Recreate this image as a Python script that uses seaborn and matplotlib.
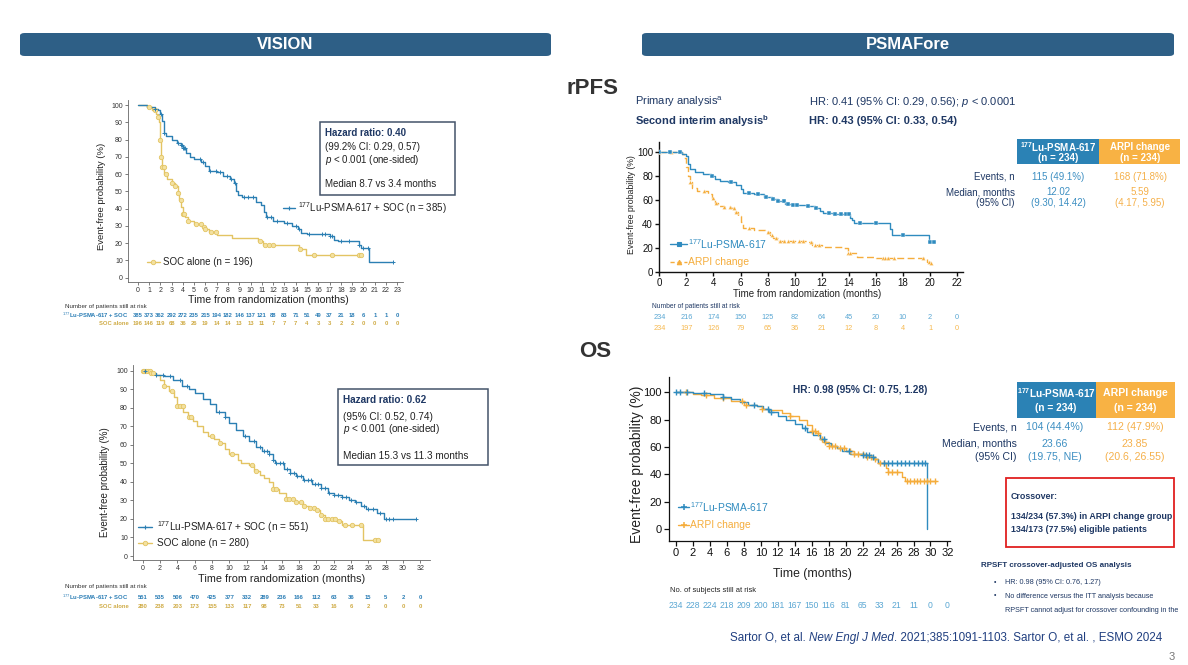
import numpy as np
import pandas as pd
import matplotlib
matplotlib.use("Agg")
import matplotlib.pyplot as plt
import seaborn as sns
from matplotlib.lines import Line2D
from matplotlib.patches import Rectangle, FancyBboxPatch
import matplotlib.transforms as mtrans

# ======================= DATA =======================
# ---- VISION rPFS ----
vis_pfs_months = list(range(0, 24))
vis_pfs_risk_lu = [385, 373, 362, 292, 272, 235, 215, 194, 182, 146, 137, 121, 88, 83, 71, 51, 49, 37, 21, 18, 6, 1, 1, 0]
vis_pfs_risk_soc = [196, 146, 119, 68, 36, 26, 19, 14, 14, 13, 13, 11, 7, 7, 7, 4, 3, 3, 2, 2, 0, 0, 0, 0]
vis_pfs_lu_t = [0, 0.8, 1.5, 1.8, 2.0, 2.15, 2.3, 2.5, 3.0, 3.5, 3.8, 4.0, 4.3, 4.6, 5.0, 5.6, 6.0, 6.3, 7.0, 7.6,
                8.2, 8.5, 8.7, 8.9, 9.2, 10.0, 10.5, 10.9, 11.2, 11.4, 12.0, 13.0, 13.7, 14.2, 14.5, 15.0, 17.0, 17.4,
                17.7, 19.6, 19.8, 20.5, 22.6]
vis_pfs_lu_s = [100, 99, 98, 97, 95, 91, 84, 82, 80, 78, 77, 75, 72, 70, 69, 67, 65, 62, 61, 59,
                57, 55, 50, 48, 47, 46.5, 44, 42, 38, 35, 33, 32, 30, 28, 26, 25.5, 24, 22,
                21, 19, 17.5, 9, 9]
vis_pfs_lu_cens = [1.5, 2.1, 2.3, 3.6, 3.8, 3.9, 4.0, 4.1, 4.2, 5.5, 5.8, 6.4, 6.9, 7.3, 7.9, 8.3, 8.6, 9.4, 9.8,
                   10.2, 11.5, 11.8, 12.3, 13.2, 14.0, 14.3, 15.2, 16.3, 16.6, 17.0, 17.2, 18.0, 18.7, 19.6, 20.0,
                   20.4, 22.6]
vis_pfs_soc_t = [0, 0.8, 1.3, 1.6, 1.8, 1.9, 1.95, 2.0, 2.05, 2.1, 2.2, 2.35, 2.6, 3.0, 3.3, 3.55, 3.7, 3.85, 4.0,
                 4.2, 4.5, 5.0, 5.7, 6.0, 6.3, 7.0, 8.4, 10.7, 11.1, 14.3, 14.9, 19.8]
vis_pfs_soc_s = [100, 99, 97, 95, 93, 90, 86, 80, 74, 70, 64, 60, 57, 55, 53, 49, 45, 41, 37,
                 35, 33, 31, 29.5, 28, 26.5, 25, 23, 21, 19, 16.5, 13, 13]
vis_pfs_soc_cens = [1.0, 1.5, 1.8, 2.0, 2.1, 2.2, 2.3, 2.5, 3.0, 3.3, 3.6, 3.8, 4.0, 4.1, 4.5, 5.2, 5.6, 5.9, 6.0,
                    6.5, 6.9, 10.8, 11.3, 11.6, 12.0, 14.4, 15.6, 17.2, 19.6, 19.8]

# ---- VISION OS ----
vis_os_months = list(range(0, 33, 2))
vis_os_risk_lu = [551, 535, 506, 470, 425, 377, 332, 289, 236, 166, 112, 63, 36, 15, 5, 2, 0]
vis_os_risk_soc = [280, 238, 203, 173, 155, 133, 117, 98, 73, 51, 33, 16, 6, 2, 0, 0, 0]
vis_os_lu_t = [0, 1.0, 1.5, 2.5, 3.5, 4.5, 5.3, 6.0, 7.0, 7.7, 8.5, 9.5, 10.0, 10.7, 11.5, 12.3, 13.0, 13.8, 14.5,
               15.0, 15.3, 16.3, 17.0, 17.7, 18.5, 19.5, 20.5, 21.4, 22.0, 23.0, 23.8, 24.5, 25.2, 25.7, 27.0,
               27.8, 31.5]
vis_os_lu_s = [100, 99, 98, 97, 95, 92, 90, 88, 85, 82, 78, 75, 72, 68, 65, 62, 59, 57, 55,
               52, 50, 47, 45, 43, 41, 39, 37, 34, 33, 32, 30, 29, 27, 25.5, 23,
               20, 20]
vis_os_lu_cens = [0.3, 1.5, 2.3, 3.2, 4.3, 5.1, 8.8, 9.5, 11.8, 12.8, 13.5, 14.0, 14.3, 14.6, 15.0, 15.4, 15.8,
                  16.2, 16.6, 17.0, 17.4, 17.8, 18.2, 18.6, 19.0, 19.4, 19.8, 20.2, 20.6, 21.0, 21.5, 22.0, 22.5,
                  23.0, 23.4, 24.0, 24.6, 25.5, 26.0, 26.5, 27.3, 28.0, 28.4, 28.8, 31.5]
vis_os_soc_t = [0, 1.0, 1.4, 2.0, 2.5, 3.0, 3.6, 4.0, 4.7, 5.2, 5.8, 6.3, 7.0, 7.5, 8.2, 8.8, 9.5, 10.0, 11.0,
                11.3, 12.3, 12.8, 13.5, 14.0, 14.5, 15.0, 15.7, 16.5, 17.5, 18.5, 19.2, 20.0, 20.4, 21.0, 22.3,
                23.0, 25.4, 27.1]
vis_os_soc_s = [100, 99, 98, 95, 92, 89, 86, 81, 78, 75, 73, 70, 67, 65, 63, 61, 58, 55, 52,
                50, 49, 46, 44, 42, 40, 36, 34, 31, 29, 27, 26, 25, 22, 20, 19,
                17, 8.5, 8.5]
vis_os_soc_cens = [0.0, 0.2, 0.4, 0.6, 0.8, 1.0, 1.2, 2.5, 3.4, 4.0, 4.3, 4.6, 5.3, 5.6, 8.0, 8.9, 10.3, 12.6, 13.0,
                   15.0, 15.4, 16.5, 16.9, 17.3, 17.7, 18.2, 18.6, 19.3, 19.7, 20.1, 20.5, 21.0, 21.4, 21.8, 22.2,
                   22.6, 23.3, 24.1, 25.1, 26.8, 27.1]

# ---- PSMAfore rPFS ----
pf_pfs_months = list(range(0, 23, 2))
pf_pfs_risk_lu = [234, 216, 174, 150, 125, 82, 64, 45, 20, 10, 2, 0]
pf_pfs_risk_arpi = [234, 197, 126, 79, 65, 36, 21, 12, 8, 4, 1, 0]
pf_pfs_lu_t = [0, 1.65, 2.0, 2.1, 2.3, 2.6, 3.2, 3.8, 4.1, 4.5, 5.1, 5.7, 6.0, 6.2, 7.0, 7.7, 8.3, 8.8, 9.3, 9.7,
               11.0, 11.5, 11.9, 12.1, 12.8, 14.1, 14.2, 14.4, 17.0, 17.2, 19.9, 20.3]
pf_pfs_lu_s = [100, 99, 97, 90, 86, 84, 82, 80.5, 78, 76, 75, 73, 69, 66, 65, 63, 61, 59, 57, 56,
               55, 53, 51, 49, 48, 45, 43, 40.5, 36, 31, 25, 25]
pf_pfs_lu_cens = [0.0, 0.8, 1.5, 3.9, 5.3, 6.6, 7.3, 7.9, 8.4, 8.8, 9.2, 9.5, 9.9, 10.2, 11.0, 11.6, 12.5, 13.0,
                  13.4, 13.8, 14.0, 14.8, 16.0, 18.0, 20.0, 20.3]
pf_pfs_arpi_t = [0, 1.7, 1.8, 2.0, 2.15, 2.3, 2.4, 2.8, 3.3, 3.6, 3.9, 4.1, 4.3, 4.8, 5.3, 5.6, 5.8, 6.0, 6.2, 7.0,
                 7.8, 8.2, 8.4, 8.8, 9.5, 10.9, 11.3, 12.0, 13.6, 13.9, 14.6, 16.0, 19.6, 19.8, 20.1]
pf_pfs_arpi_s = [100, 99, 95, 88, 80, 75, 70, 68, 67.5, 65, 62, 58, 55, 54, 53, 50, 47, 42, 37, 35,
                 33, 31, 28, 26, 25.5, 25, 22, 20.5, 20, 16, 12, 11.5, 11.5, 8, 7]
pf_pfs_arpi_cens = [0.0, 0.9, 2.3, 3.3, 4.0, 4.2, 4.8, 5.2, 5.5, 5.7, 6.6, 8.0, 8.3, 8.6, 8.9, 9.2, 9.5, 9.9, 10.3,
                    10.6, 11.2, 11.5, 11.8, 13.9, 14.1, 16.5, 16.7, 16.9, 17.3, 19.5, 19.9, 20.1]

# ---- PSMAfore OS ----
pf_os_months = list(range(0, 33, 2))
pf_os_risk = [234, 228, 224, 218, 209, 200, 181, 167, 150, 116, 81, 65, 33, 21, 11, 0, 0]
pf_os_lu_t = [0, 2.0, 4.0, 5.5, 6.5, 7.5, 8.5, 9.5, 10.3, 11.0, 12.0, 13.0, 14.0, 14.8, 15.5, 16.2, 17.0, 17.6,
              18.3, 19.0, 19.6, 20.5, 22.0, 23.0, 23.4, 23.8, 29.6]
pf_os_lu_s = [100, 99.5, 99, 97, 95, 93, 91, 90, 88, 86, 83, 80, 77, 74, 71, 69, 66, 63,
              61, 59, 57, 55, 54.5, 53, 51, 48, 0]
pf_os_lu_cens = [0.0, 0.5, 1.3, 3.3, 5.5, 9.2, 10.8, 11.2, 15.2, 17.5, 20.4, 22.0, 22.4, 22.8, 23.2, 24.5, 25.0,
                 25.5, 26.0, 26.5, 27.0, 27.5, 28.0, 28.5, 29.0, 29.4]
pf_os_arpi_t = [0, 2.0, 3.0, 4.5, 6.5, 8.0, 9.5, 10.2, 11.0, 12.5, 13.5, 14.5, 15.5, 16.0, 16.5, 17.0, 17.5, 18.0,
                19.0, 20.0, 21.0, 22.5, 23.5, 23.85, 24.7, 25.0, 26.6, 27.0, 30.6]
pf_os_arpi_s = [100, 98.5, 98, 96, 94, 91, 90, 88, 87, 85, 83, 80, 76, 72, 70, 66, 64, 61,
                59, 57, 55, 53, 51, 48, 45, 42, 38, 35, 35]
pf_os_arpi_cens = [1.2, 3.5, 5.5, 7.8, 8.3, 10.2, 13.5, 16.0, 16.4, 16.8, 17.2, 17.6, 18.0, 18.4, 18.8, 19.3, 19.8,
                   20.5, 21.0, 21.5, 22.0, 22.5, 23.0, 23.5, 24.0, 24.5, 25.0, 25.5, 26.0, 27.2, 27.6, 28.0, 28.4,
                   28.8, 29.2, 29.6, 30.0, 30.5]

# ======================= STYLE =======================
W, H = 1188, 665
sns.set_theme(style="white")
plt.rcParams['font.family'] = ['Liberation Sans', 'DejaVu Sans']
plt.rcParams['mathtext.fontset'] = 'custom'
plt.rcParams['mathtext.rm'] = 'Liberation Sans'
plt.rcParams['mathtext.it'] = 'Liberation Sans:italic'
plt.rcParams['mathtext.bf'] = 'Liberation Sans:bold'

VIS_BLUE = '#2b7fb3'
VIS_YEL = '#e3c463'
VIS_YEL_FACE = '#f3e1a0'
VIS_RISK_BLUE = '#2a7db5'
VIS_RISK_YEL = '#cfab45'
PF_BLUE = '#2f8bbf'
PF_OR = '#f5ad3c'
PF_RISK_BLUE = '#5aa7d3'
PF_RISK_OR = '#f6b950'
NAVY = '#1f3864'
BAR = '#2e5f86'
TBL_BLUE = '#2b82b5'
TBL_OR = '#f8b244'
VAL_BLUE = '#3d8fc2'
VAL_OR = '#f5b04a'

fig = plt.figure(figsize=(W / 100, H / 100), dpi=100)
fig.patch.set_facecolor('white')


def fx(px):
    return px / W


def fy(py):
    return 1 - py / H


def px_axes(l, t, r, b):
    return fig.add_axes([l / W, 1 - b / H, (r - l) / W, (b - t) / H])


def step_at(times, surv, t):
    idx = np.searchsorted(np.asarray(times), np.asarray(t), side='right') - 1
    return np.asarray(surv, dtype=float)[np.clip(idx, 0, None)]


def km(ax, t, s, cens, color, marker, msize, mface=None, medge=None, mlw=0.8, lw=1.0, dashes=None):
    df = pd.DataFrame({'t': t, 's': s})
    sns.lineplot(data=df, x='t', y='s', ax=ax, color=color, lw=lw, drawstyle='steps-post',
                 estimator=None, sort=False, legend=False)
    if dashes is not None:
        ax.lines[-1].set_dashes(dashes)
    cy = step_at(t, s, cens)
    cdf = pd.DataFrame({'t': cens, 's': cy})
    kws = dict(data=cdf, x='t', y='s', ax=ax, marker=marker, s=msize, linewidth=mlw, zorder=3, legend=False)
    if mface is not None:
        sns.scatterplot(color=mface, edgecolor=medge, **kws)
    else:
        sns.scatterplot(color=color, **kws)


def style(ax, xlim, ylim, xticks, yticks, spine_color, lw, labelsize, tick_len, tickcolor='#333'):
    sns.despine(ax=ax)
    for sp in ['left', 'bottom']:
        ax.spines[sp].set_color(spine_color)
        ax.spines[sp].set_linewidth(lw)
    ax.set_xlim(*xlim)
    ax.set_ylim(*ylim)
    ax.set_xticks(xticks)
    ax.set_yticks(yticks)
    ax.tick_params(axis='both', which='major', direction='out', length=tick_len, width=lw,
                   color=spine_color, labelsize=labelsize, pad=1.5, left=True, bottom=True,
                   labelcolor=tickcolor)
    ax.set_xlabel('')
    ax.set_ylabel('')
    ax.set_facecolor('none')


def leg_entry(x0, x1, y, color, marker, msize, mface=None, medge=None, dashes=None, lw=1.0, mew=0.8):
    ln = Line2D([fx(x0), fx(x1)], [fy(y), fy(y)], transform=fig.transFigure, color=color, lw=lw)
    if dashes:
        ln.set_dashes(dashes)
    fig.add_artist(ln)
    mk = Line2D([fx((x0 + x1) / 2)], [fy(y)], transform=fig.transFigure, marker=marker, ms=msize,
                mfc=mface or color, mec=medge or color, mew=mew, ls='none')
    fig.add_artist(mk)


def risk_row(ax, months, values, py, color, size, weight='normal'):
    tr = mtrans.blended_transform_factory(ax.transData, fig.transFigure)
    for m, v in zip(months, values):
        ax.text(m, fy(py), str(v), transform=tr, ha='center', va='center', fontsize=size, color=color,
                fontweight=weight)


# ======================= HEADER BARS =======================
for x0, x1, label in [(20, 551, 'VISION'), (642, 1174, 'PSMAFore')]:
    fig.add_artist(FancyBboxPatch((fx(x0), fy(56)), fx(x1) - fx(x0), (56 - 33) / H,
                                  boxstyle='round,pad=0,rounding_size=0.004', transform=fig.transFigure,
                                  fc=BAR, ec='none'))
    fig.text(fx((x0 + x1) / 2), fy(44.5), label, ha='center', va='center', color='white',
             fontsize=12, fontweight='bold')

# ======================= VISION rPFS =======================
ax1 = px_axes(127.7, 100, 403, 281.7)
km(ax1, vis_pfs_soc_t, vis_pfs_soc_s, vis_pfs_soc_cens, VIS_YEL, 'o', 10, mface=VIS_YEL_FACE, medge=VIS_YEL, mlw=0.6)
km(ax1, vis_pfs_lu_t, vis_pfs_lu_s, vis_pfs_lu_cens, VIS_BLUE, '+', 10, mlw=0.7)
style(ax1, (-0.88, 23.5), (-2.3, 103), vis_pfs_months, range(0, 101, 10), '#666', 0.6, 5, 2)
fig.text(fx(101.7), fy(196), 'Event-free probability (%)', rotation=90, ha='center', va='center', fontsize=6.8, color='#222')
fig.text(fx(268), fy(300), 'Time from randomization (months)', ha='center', va='center', fontsize=7.6, color='#222')
fig.text(fx(65), fy(306.5), 'Number of patients still at risk', ha='left', va='center', fontsize=4.5, color='#333')
fig.text(fx(128.5), fy(315.3), r'$^{177}$Lu-PSMA-617 + SOC', ha='right', va='center', fontsize=4.2, color=VIS_RISK_BLUE, fontweight='bold')
fig.text(fx(128.5), fy(324), 'SOC alone', ha='right', va='center', fontsize=4.2, color=VIS_RISK_YEL, fontweight='bold')
risk_row(ax1, vis_pfs_months, vis_pfs_risk_lu, 315.3, VIS_RISK_BLUE, 4.2, 'bold')
risk_row(ax1, vis_pfs_months, vis_pfs_risk_soc, 324, VIS_RISK_YEL, 4.2, 'bold')
fig.add_artist(Rectangle((fx(320), fy(195)), fx(455) - fx(320), (195 - 121.7) / H, transform=fig.transFigure,
                         fc='white', ec='#44546a', lw=1.1))
fig.text(fx(325), fy(133.3), 'Hazard ratio: 0.40', fontsize=7, fontweight='bold', color=NAVY, va='center')
fig.text(fx(325), fy(146.7), '(99.2% CI: 0.29, 0.57)', fontsize=7, color='#222', va='center')
fig.text(fx(325), fy(160), r'$p$ < 0.001 (one-sided)', fontsize=7, color='#222', va='center')
fig.text(fx(325), fy(184.3), 'Median 8.7 vs 3.4 months', fontsize=7, color='#222', va='center')
leg_entry(283.3, 295, 208.3, VIS_BLUE, '+', 3.5)
fig.text(fx(298.3), fy(208.3), r'$^{177}$Lu-PSMA-617 + SOC (n = 385)', fontsize=7, color='#222', va='center')
leg_entry(146.7, 160, 261.7, VIS_YEL, 'o', 3.2, mface=VIS_YEL_FACE, medge=VIS_YEL, mew=0.6)
fig.text(fx(163.3), fy(261.7), 'SOC alone (n = 196)', fontsize=7, color='#222', va='center')

# ======================= VISION OS =======================
ax2 = px_axes(132.7, 365, 430, 560)
km(ax2, vis_os_soc_t, vis_os_soc_s, vis_os_soc_cens, VIS_YEL, 'o', 10, mface=VIS_YEL_FACE, medge=VIS_YEL, mlw=0.6)
km(ax2, vis_os_lu_t, vis_os_lu_s, vis_os_lu_cens, VIS_BLUE, '+', 10, mlw=0.7)
style(ax2, (-1.15, 33.1), (-2.16, 103.2), vis_os_months, range(0, 101, 10), '#666', 0.6, 5, 2)
fig.text(fx(105), fy(481.7), 'Event-free probability (%)', rotation=90, ha='center', va='center', fontsize=7, color='#222')
fig.text(fx(281.7), fy(579), 'Time from randomization (months)', ha='center', va='center', fontsize=7.8, color='#222')
fig.text(fx(65), fy(586.7), 'Number of patients still at risk', ha='left', va='center', fontsize=4.5, color='#333')
fig.text(fx(128.5), fy(597.3), r'$^{177}$Lu-PSMA-617 + SOC', ha='right', va='center', fontsize=4.2, color=VIS_RISK_BLUE, fontweight='bold')
fig.text(fx(128.5), fy(606.7), 'SOC alone', ha='right', va='center', fontsize=4.2, color=VIS_RISK_YEL, fontweight='bold')
risk_row(ax2, vis_os_months, vis_os_risk_lu, 597.3, VIS_RISK_BLUE, 4.2, 'bold')
risk_row(ax2, vis_os_months, vis_os_risk_soc, 606.7, VIS_RISK_YEL, 4.2, 'bold')
fig.add_artist(Rectangle((fx(338.3), fy(465)), fx(488.3) - fx(338.3), (465 - 389.3) / H, transform=fig.transFigure,
                         fc='white', ec='#44546a', lw=1.1))
fig.text(fx(343.3), fy(400), 'Hazard ratio: 0.62', fontsize=7.2, fontweight='bold', color=NAVY, va='center')
fig.text(fx(343.3), fy(416.7), '(95% CI: 0.52, 0.74)', fontsize=7.2, color='#222', va='center')
fig.text(fx(343.3), fy(429), r'$p$ < 0.001 (one-sided)', fontsize=7.2, color='#222', va='center')
fig.text(fx(343.3), fy(455.7), 'Median 15.3 vs 11.3 months', fontsize=7.2, color='#222', va='center')
leg_entry(138.3, 151.7, 526.7, VIS_BLUE, '+', 3.5)
fig.text(fx(156.7), fy(526.7), r'$^{177}$Lu-PSMA-617 + SOC (n = 551)', fontsize=7.2, color='#222', va='center')
leg_entry(138.3, 151.7, 543.3, VIS_YEL, 'o', 3.2, mface=VIS_YEL_FACE, medge=VIS_YEL, mew=0.6)
fig.text(fx(156.7), fy(543.3), 'SOC alone (n = 280)', fontsize=7.2, color='#222', va='center')

# ======================= PSMAfore rPFS =======================
fig.text(fx(592), fy(89), 'rPFS', ha='center', va='center', fontsize=16, fontweight='bold', color='#333')
fig.text(fx(635), fy(102.2), r'Primary analysis$^{\mathrm{a}}$', fontsize=8, color=NAVY, va='center')
fig.text(fx(809), fy(102.2), r'HR: 0.41 (95% CI: 0.29, 0.56); $p$ < 0.0001', fontsize=8, color=NAVY, va='center')
fig.text(fx(635), fy(121.4), r'Second interim analysis$^{\mathbf{b}}$', fontsize=8, color=NAVY, va='center', fontweight='bold')
fig.text(fx(809), fy(121.4), 'HR: 0.43 (95% CI: 0.33, 0.54)', fontsize=8, color=NAVY, va='center', fontweight='bold')

ax3 = px_axes(659.3, 141.7, 963.3, 271.7)
km(ax3, pf_pfs_arpi_t, pf_pfs_arpi_s, pf_pfs_arpi_cens, PF_OR, '^', 9, mlw=0.3, dashes=(5, 2.5))
km(ax3, pf_pfs_lu_t, pf_pfs_lu_s, pf_pfs_lu_cens, PF_BLUE, 's', 6, mlw=0.3)
style(ax3, (0, 22.45), (0, 109), pf_pfs_months, range(0, 101, 20), '#111', 1.0, 7, 3, tickcolor='#111')
fig.text(fx(631), fy(205), 'Event-free probability (%)', rotation=90, ha='center', va='center', fontsize=6.3, color='#222')
fig.text(fx(807), fy(294.3), 'Time from randomization (months)', ha='center', va='center', fontsize=7, color='#222')
fig.text(fx(651.7), fy(306), 'Number of patients still at risk', ha='left', va='center', fontsize=4.8, color=NAVY)
risk_row(ax3, pf_pfs_months, pf_pfs_risk_lu, 317.7, PF_RISK_BLUE, 5.3)
risk_row(ax3, pf_pfs_months, pf_pfs_risk_arpi, 328.3, PF_RISK_OR, 5.3)
leg_entry(670, 687.3, 244, PF_BLUE, 's', 2.5)
fig.text(fx(688.5), fy(244), r'$^{177}$Lu-PSMA-617', fontsize=7.5, color=PF_BLUE, va='center')
leg_entry(670, 687.3, 261.7, PF_OR, '^', 3.2, dashes=(3, 2))
fig.text(fx(688.5), fy(261.7), 'ARPI change', fontsize=7.5, color=PF_OR, va='center')

# rPFS table
fig.add_artist(Rectangle((fx(1016.7), fy(164.3)), fx(1099.3) - fx(1016.7), 25 / H, transform=fig.transFigure, fc=TBL_BLUE, ec='none'))
fig.add_artist(Rectangle((fx(1099.3), fy(164.3)), fx(1180) - fx(1099.3), 25 / H, transform=fig.transFigure, fc=TBL_OR, ec='none'))
fig.text(fx(1058), fy(146.7), r'$^{\mathbf{177}}$Lu-PSMA-617', ha='center', va='center', fontsize=7, color='white', fontweight='bold')
fig.text(fx(1058), fy(158.3), '(n = 234)', ha='center', va='center', fontsize=7, color='white', fontweight='bold')
fig.text(fx(1140), fy(146.7), 'ARPI change', ha='center', va='center', fontsize=7, color='white', fontweight='bold')
fig.text(fx(1140), fy(158.3), '(n = 234)', ha='center', va='center', fontsize=7, color='white', fontweight='bold')
fig.text(fx(1015), fy(176.7), 'Events, n', ha='right', va='center', fontsize=7, color=NAVY)
fig.text(fx(1015), fy(192), 'Median, months', ha='right', va='center', fontsize=7, color=NAVY)
fig.text(fx(1015), fy(202.5), '(95% CI)', ha='right', va='center', fontsize=7, color=NAVY)
for cx, col, vals in [(1058, VAL_BLUE, ['115 (49.1%)', '12.02', '(9.30, 14.42)']),
                      (1140, VAL_OR, ['168 (71.8%)', '5.59', '(4.17, 5.95)'])]:
    for py, v in zip([176.7, 192, 202.5], vals):
        fig.text(fx(cx), fy(py), v, ha='center', va='center', fontsize=7, color=col)

# ======================= PSMAfore OS =======================
fig.text(fx(595), fy(352), 'OS', ha='center', va='center', fontsize=16, fontweight='bold', color='#333')
ax4 = px_axes(669, 376.7, 950, 541)
km(ax4, pf_os_arpi_t, pf_os_arpi_s, pf_os_arpi_cens, PF_OR, '+', 14, mlw=1.0)
km(ax4, pf_os_lu_t, pf_os_lu_s, pf_os_lu_cens, PF_BLUE, '+', 14, mlw=1.0)
style(ax4, (-0.82, 32.3), (-8.8, 111.5), pf_os_months, range(0, 101, 20), '#111', 0.9, 8, 3.5, tickcolor='#111')
fig.text(fx(636.5), fy(464), 'Event-free probability (%)', rotation=90, ha='center', va='center', fontsize=10,
         color='#222')
fig.text(fx(812), fy(574), 'Time (months)', ha='center', va='center', fontsize=8.8, color='#222')
fig.text(fx(860), fy(390), 'HR: 0.98 (95% CI: 0.75, 1.28)', ha='center', va='center', fontsize=7.3, color=NAVY,
         fontweight='bold')
fig.text(fx(670), fy(590.7), 'No. of subjects still at risk', ha='left', va='center', fontsize=5.4, color='#222')
risk_row(ax4, pf_os_months, pf_os_risk, 605.5, PF_RISK_BLUE, 6.2)
leg_entry(678.3, 689.3, 506.7, PF_BLUE, '+', 4, mew=1.1)
fig.text(fx(690.5), fy(506.7), r'$^{177}$Lu-PSMA-617', fontsize=7.4, color=PF_BLUE, va='center')
leg_entry(678.3, 689.3, 525, PF_OR, '+', 4, mew=1.1)
fig.text(fx(690.5), fy(525), 'ARPI change', fontsize=7.4, color=PF_OR, va='center')

# OS table
fig.add_artist(Rectangle((fx(1016.7), fy(418.3)), fx(1096) - fx(1016.7), 36 / H, transform=fig.transFigure, fc=TBL_BLUE, ec='none'))
fig.add_artist(Rectangle((fx(1096), fy(418.3)), fx(1175) - fx(1096), 36 / H, transform=fig.transFigure, fc=TBL_OR, ec='none'))
fig.text(fx(1056), fy(393.3), r'$^{\mathbf{177}}$Lu-PSMA-617', ha='center', va='center', fontsize=7.3, color='white', fontweight='bold')
fig.text(fx(1056), fy(408.3), '(n = 234)', ha='center', va='center', fontsize=7.3, color='white', fontweight='bold')
fig.text(fx(1135.5), fy(393.3), 'ARPI change', ha='center', va='center', fontsize=7.6, color='white', fontweight='bold')
fig.text(fx(1135.5), fy(408.3), '(n = 234)', ha='center', va='center', fontsize=7.6, color='white', fontweight='bold')
fig.text(fx(1016.7), fy(427.3), 'Events, n', ha='right', va='center', fontsize=7.6, color=NAVY)
fig.text(fx(1016.7), fy(444), 'Median, months', ha='right', va='center', fontsize=7.6, color=NAVY)
fig.text(fx(1016.7), fy(456.7), '(95% CI)', ha='right', va='center', fontsize=7.6, color=NAVY)
for cx, col, vals in [(1055, VAL_BLUE, ['104 (44.4%)', '23.66', '(19.75, NE)']),
                      (1135, VAL_OR, ['112 (47.9%)', '23.85', '(20.6, 26.55)'])]:
    for py, v in zip([427.3, 444, 456.7], vals):
        fig.text(fx(cx), fy(py), v, ha='center', va='center', fontsize=7.6, color=col)

fig.add_artist(Rectangle((fx(1006), fy(547.3)), fx(1174.3) - fx(1006), (547.3 - 478.3) / H, transform=fig.transFigure,
                         fc='white', ec='#e02020', lw=1.3))
fig.text(fx(1010.7), fy(496.7), 'Crossover:', fontsize=6.4, fontweight='bold', color=NAVY, va='center')
fig.text(fx(1010.7), fy(516.7), '134/234 (57.3%) in ARPI change group', fontsize=6.4, fontweight='bold', color=NAVY, va='center')
fig.text(fx(1010.7), fy(530), '134/173 (77.5%) eligible patients', fontsize=6.4, fontweight='bold', color=NAVY, va='center')

fig.text(fx(981), fy(565.7), 'RPSFT crossover-adjusted OS analysis', fontsize=5.8, fontweight='bold', color=NAVY, va='center')
for py, txt in [(582.3, 'HR: 0.98 (95% CI: 0.76, 1.27)'),
                (596, 'No difference versus the ITT analysis because'),
                (611, 'RPSFT cannot adjust for crossover confounding in the')]:
    fig.text(fx(1005), fy(py), txt, fontsize=5.2, color=NAVY, va='center')
for py in [582.3, 596]:
    fig.text(fx(995), fy(py), '\u2022', fontsize=5, color=NAVY, va='center', ha='center')

# ======================= FOOTER =======================
fig.canvas.draw()
rend = fig.canvas.get_renderer()
xcur = fx(730)
for txt, style_ in [('Sartor O, et al. ', 'normal'), ('New Engl J Med', 'italic'),
                    ('. 2021;385:1091-1103. Sartor O, et al. , ESMO 2024', 'normal')]:
    t = fig.text(xcur, fy(637.6), txt, fontsize=8.35, color='#203f80', style=style_, va='center', ha='left')
    bb = t.get_window_extent(renderer=rend)
    xcur = bb.x1 / fig.bbox.width
fig.text(fx(1172), fy(657.5), '3', fontsize=8, color='#777', va='center', ha='center')

fig.savefig('out.png', dpi=100, facecolor='white')
